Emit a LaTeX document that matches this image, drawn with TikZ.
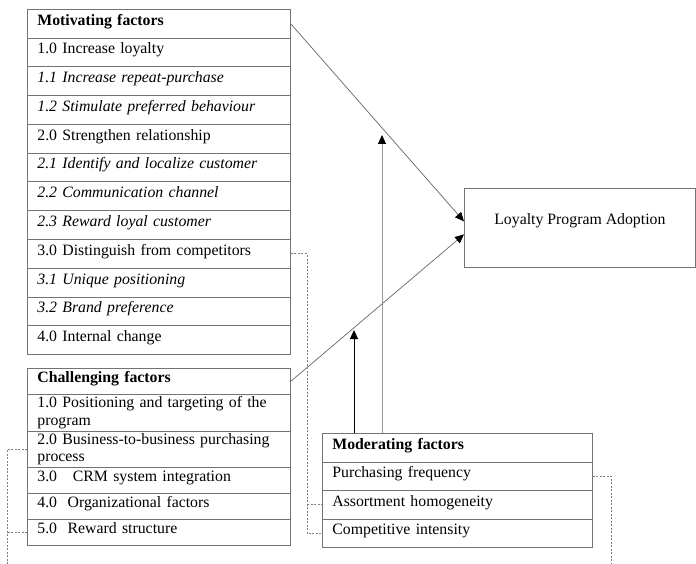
\documentclass[tikz,border=0pt]{standalone}
\usepackage{fontspec}
\setmainfont{Liberation Serif}
\usetikzlibrary{arrows.meta}
\begin{document}
\begin{tikzpicture}[x=1pt,y=-1pt,
  boxline/.style={draw=black!55, line width=0.75pt},
  cell/.style={boxline, anchor=north west, inner xsep=10pt, inner ysep=0pt, align=left,
    font=\fontsize{15.8}{17.5}\selectfont},
  mcell/.style={cell, text width=243pt},
  modcell/.style={cell, text width=250pt},
  one/.style={text height=11pt, text depth=8pt},
  tip/.style={-{Triangle[length=9pt,width=8pt,black]}},
  link/.style={draw=black!60, line width=0.7pt, tip},
  dashlink/.style={draw=black!50, line width=0.7pt, dash pattern=on 2pt off 1.5pt}]
\useasboundingbox (0,0) rectangle (696,564);

% Motivating factors
\node[mcell, one, minimum height=28.75pt] (m0)  at (27,9)      {\textbf{Motivating factors}};
\node[mcell, one, minimum height=28.75pt] (m1)  at (27,37.75)  {1.0 Increase loyalty};
\node[mcell, one, minimum height=28.75pt] (m2)  at (27,66.5)   {\textit{1.1 Increase repeat-purchase}};
\node[mcell, one, minimum height=28.75pt] (m3)  at (27,95.25)  {\textit{1.2 Stimulate preferred behaviour}};
\node[mcell, one, minimum height=28.75pt] (m4)  at (27,124)    {2.0 Strengthen relationship};
\node[mcell, one, minimum height=28.75pt] (m5)  at (27,152.75) {\textit{2.1 Identify and localize customer}};
\node[mcell, one, minimum height=28.75pt] (m6)  at (27,181.5)  {\textit{2.2 Communication channel}};
\node[mcell, one, minimum height=28.75pt] (m7)  at (27,210.25) {\textit{2.3 Reward loyal customer}};
\node[mcell, one, minimum height=28.75pt] (m8)  at (27,239)    {3.0 Distinguish from competitors};
\node[mcell, one, minimum height=28.75pt] (m9)  at (27,267.75) {\textit{3.1 Unique positioning}};
\node[mcell, one, minimum height=28.75pt] (m10) at (27,296.5)  {\textit{3.2 Brand preference}};
\node[mcell, one, minimum height=28.75pt] (m11) at (27,325.25) {4.0 Internal change};

% Challenging factors
\node[mcell, one, minimum height=26pt] (c0) at (27,368) {\textbf{Challenging factors}};
\node[mcell, minimum height=37pt] (c1) at (27,394) {1.0 Positioning and targeting of the\\program};
\node[mcell, minimum height=36pt] (c2) at (27,431) {2.0 Business-to-business purchasing\\process};
\node[mcell, one, minimum height=26pt] (c3) at (27,467) {3.0\ \ \ CRM system integration};
\node[mcell, one, minimum height=26pt] (c4) at (27,493) {4.0\ \ Organizational factors};
\node[mcell, one, minimum height=26pt] (c5) at (27,519) {5.0\ \ Reward structure};

% Moderating factors
\node[modcell, one, minimum height=28.5pt] (mo0) at (322,433)   {\textbf{Moderating factors}};
\node[modcell, one, minimum height=28.5pt] (mo1) at (322,461.5) {Purchasing frequency};
\node[modcell, one, minimum height=28.5pt] (mo2) at (322,490)   {Assortment homogeneity};
\node[modcell, one, minimum height=28.5pt] (mo3) at (322,518.5) {Competitive intensity};

% Outcome
\node[boxline, anchor=north west, minimum width=231pt, minimum height=79pt, inner sep=0pt,
  font=\fontsize{15.8}{17.5}\selectfont, text height=11pt, text depth=18pt] (lpa) at (464,188)
  {Loyalty Program Adoption};

% Main arrows
\draw[link] (m0.east) -- ([yshift=6.5pt]lpa.west);
\draw[link] (c0.east) -- ([yshift=-6.5pt]lpa.west);

% Moderating arrows
\coordinate (tA) at (354,330);
\coordinate (tB) at (382,135);
\draw[tip, draw=black, line width=0.8pt] (mo0.north -| tA) -- (tA);
\draw[tip, draw=black!40, line width=1pt] (mo0.north -| tB) -- (tB);

% Dashed connectors
\coordinate (dj) at (307,253);
\draw[dashlink] (m8.east) -| (dj |- mo3.west) -- (mo3.west);
\draw[dashlink] (dj |- mo2.west) -- (mo2.west);

\coordinate (lb) at (7,564);
\draw[dashlink] (c2.west) -| (lb);
\draw[dashlink] (c5.west) -- (c5.west -| lb);

\coordinate (rb) at (611,564);
\draw[dashlink] (mo1.east) -| (rb);
\end{tikzpicture}
\end{document}
